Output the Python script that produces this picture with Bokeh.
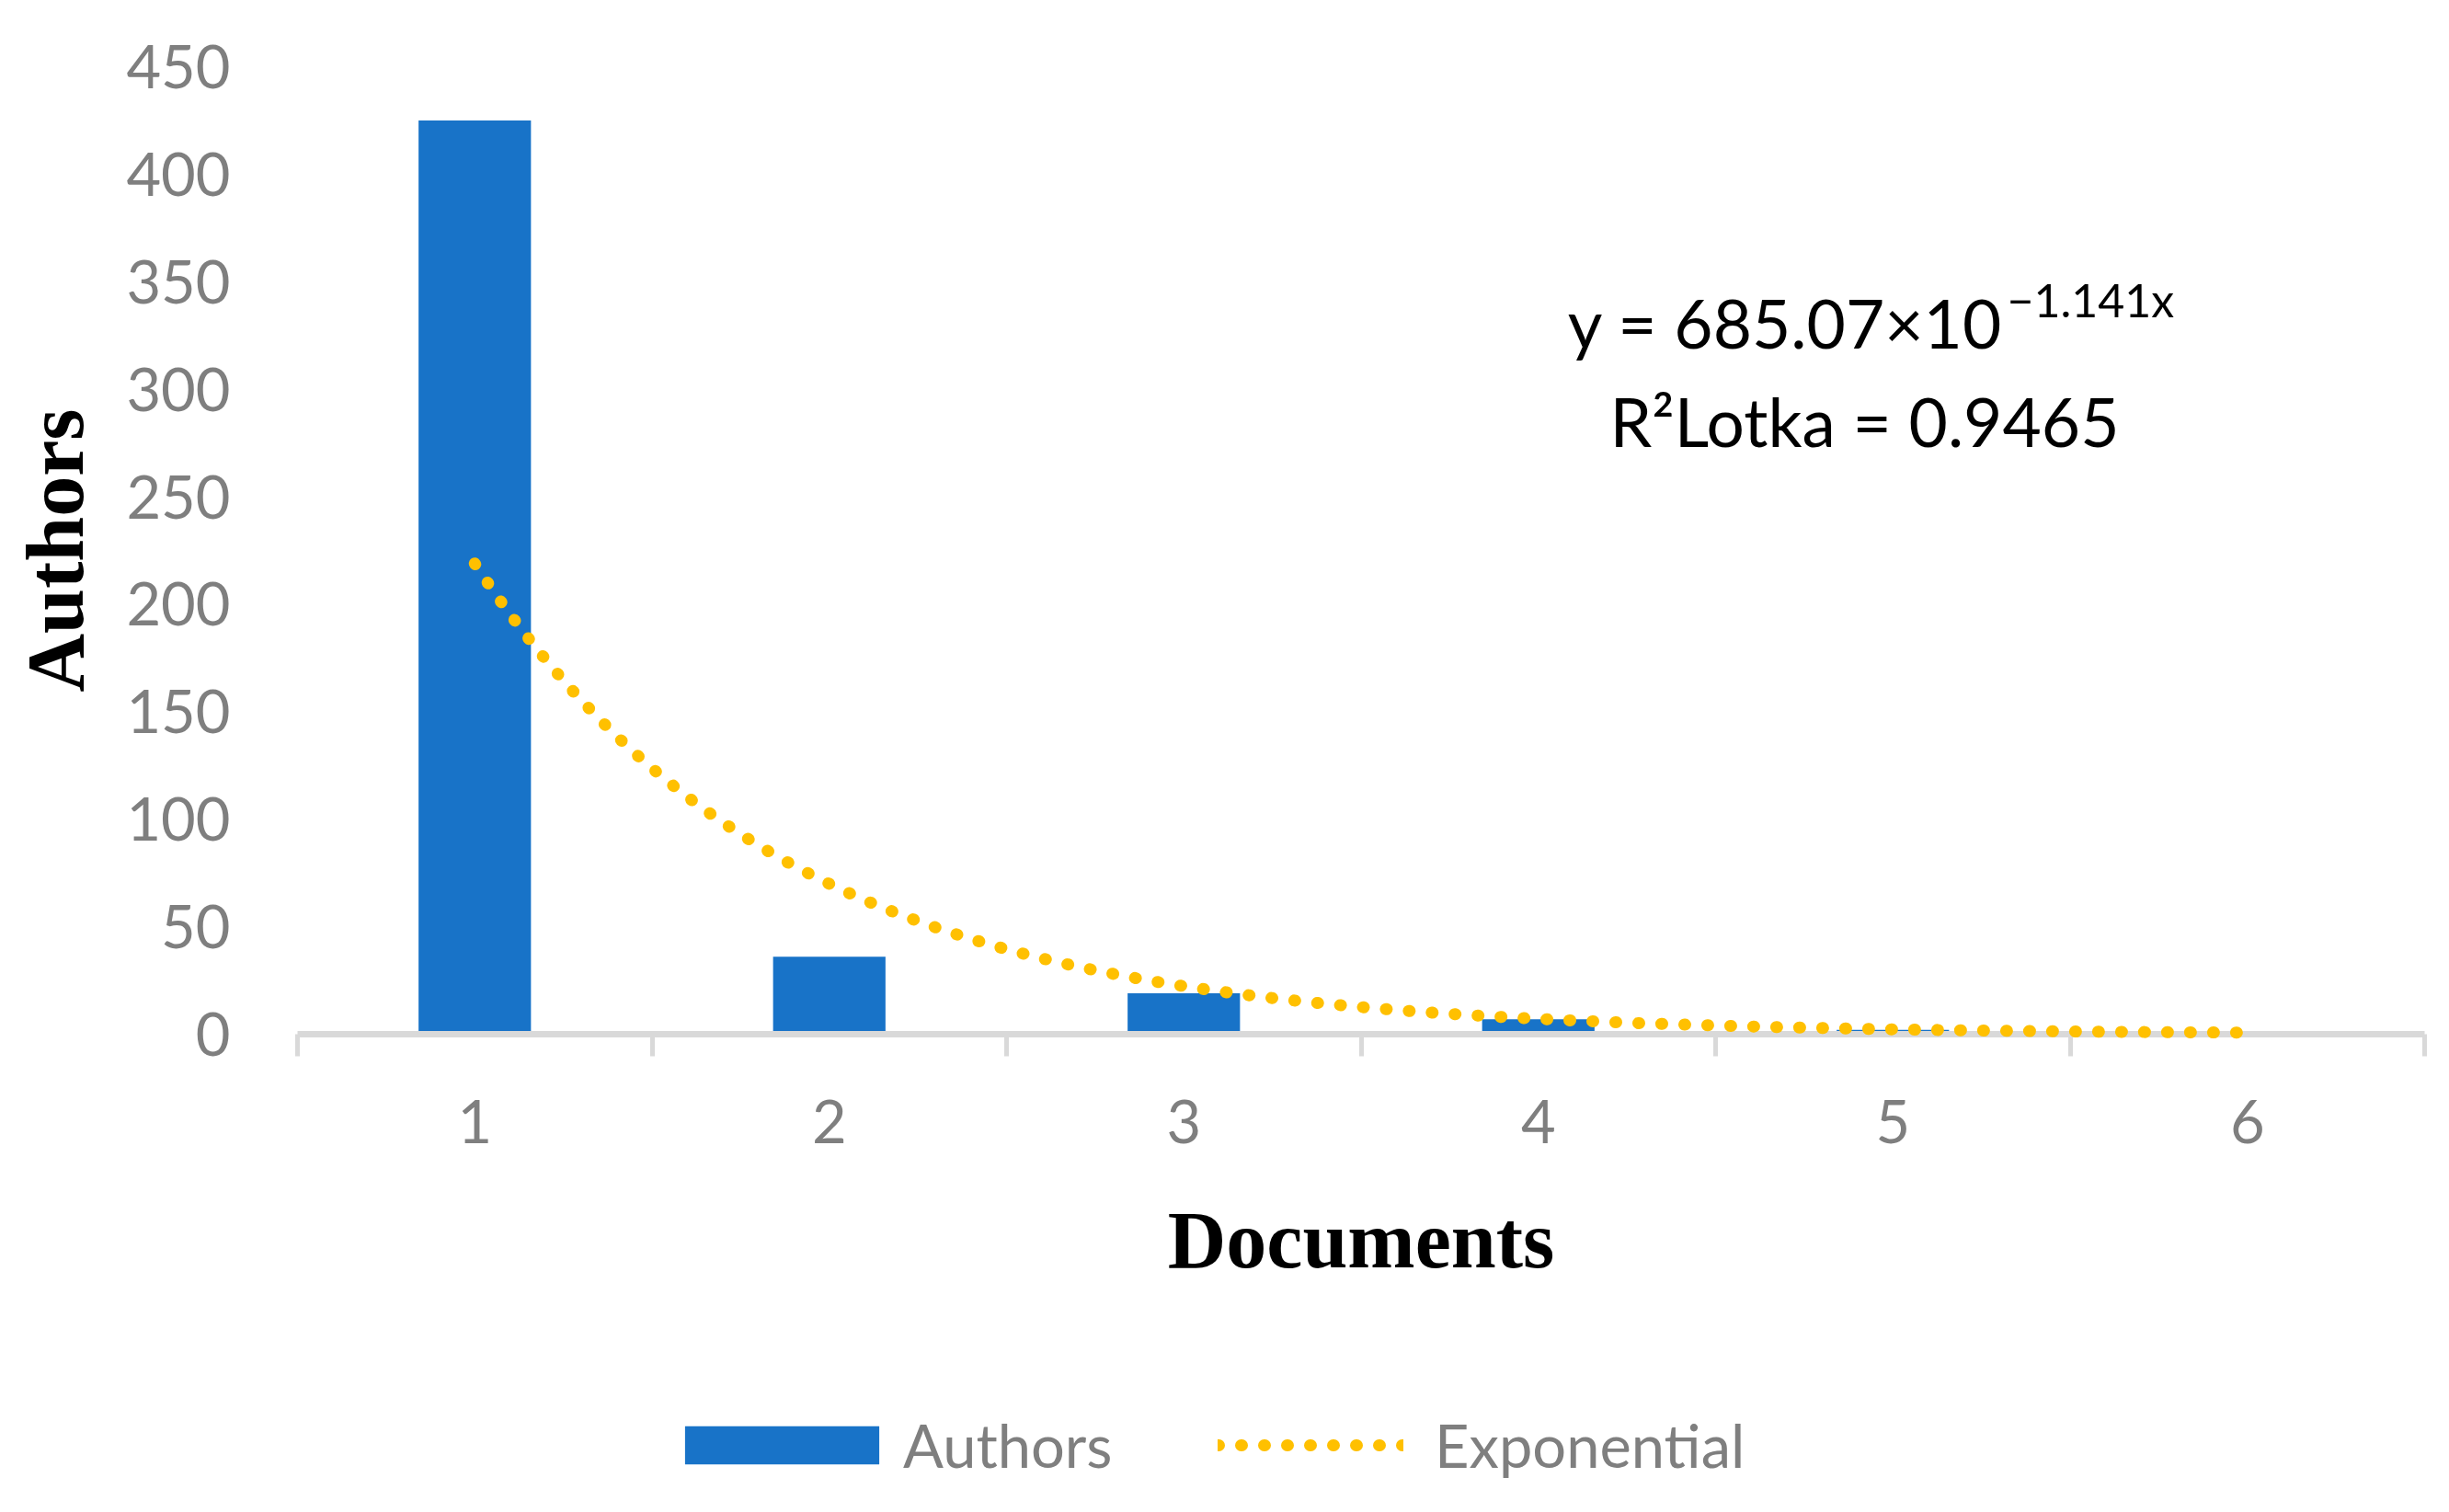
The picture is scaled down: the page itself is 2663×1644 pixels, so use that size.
import numpy as np
from bokeh.plotting import figure
from bokeh.layouts import column
from bokeh.models import (Range1d, FixedTicker, Legend, LegendItem, Label,
                          ColumnDataSource)
from bokeh.embed import file_html
from bokeh.resources import INLINE

# ---- data ----
documents = [1, 2, 3, 4, 5, 6]
authors = [425, 36, 19, 7, 2, 1]
x_tick_labels = ["1", "2", "3", "4", "5", "6"]
y_ticks = [0, 50, 100, 150, 200, 250, 300, 350, 400, 450]
equation_text = "y = 685.07×10"
equation_exponent = "−1.141x"
r2_text = "R²Lotka = 0.9465"
series_names = ["Authors", "Exponential"]

# Excel-style exponential trendline (least squares on ln y) fitted to the bars
slope, intercept = np.polyfit(documents, np.log(authors), 1)
trend_x = np.linspace(documents[0], documents[-1], 400)
trend_y = np.exp(intercept) * np.exp(slope * trend_x)

BLUE = "#1873C8"
GOLD = "#FFC000"
GRAY = "#7F7F7F"
AXIS = "#D9D9D9"
W = 2647

p = figure(width=W, height=1450,
           x_range=Range1d(0.5, 6.5), y_range=Range1d(0, 450),
           output_backend="svg", toolbar_location=None,
           min_border_left=323, min_border_right=11,
           min_border_top=72, min_border_bottom=326)
p.outline_line_color = None
p.xgrid.visible = False
p.ygrid.visible = False
p.background_fill_color = "white"
p.border_fill_color = "white"

src = ColumnDataSource(dict(x=documents, top=authors))
bars = p.vbar(x="x", top="top", width=0.317, bottom=0, source=src,
              fill_color=BLUE, line_color=None)

trend_src = ColumnDataSource(dict(x=trend_x, y=trend_y))
trend = p.line(x="x", y="y", source=trend_src, line_color=GOLD, line_width=13,
               line_dash="1 24", line_cap="round", level="overlay")

# x axis
xa = p.xaxis[0]
xa.ticker = FixedTicker(ticks=documents,
                        minor_ticks=[d - 0.5 for d in documents] + [documents[-1] + 0.5])
xa.major_label_overrides = {d: t for d, t in zip(documents, x_tick_labels)}
xa.axis_line_color = AXIS
xa.axis_line_width = 7
xa.major_tick_line_color = None
xa.major_tick_out = 0
xa.major_tick_in = 0
xa.minor_tick_line_color = AXIS
xa.minor_tick_line_width = 5
xa.minor_tick_out = 24
xa.minor_tick_in = 0
xa.major_label_text_font = "Lato"
xa.major_label_text_font_size = "65px"
xa.major_label_text_color = GRAY
xa.major_label_standoff = 47
xa.axis_label = "Documents"
xa.axis_label_text_font = "Liberation Serif"
xa.axis_label_text_font_style = "bold"
xa.axis_label_text_font_size = "88px"
xa.axis_label_text_color = "black"
xa.axis_label_standoff = 54

# y axis
ya = p.yaxis[0]
ya.ticker = FixedTicker(ticks=y_ticks)
ya.axis_line_color = None
ya.major_tick_line_color = None
ya.minor_tick_line_color = None
ya.major_tick_out = 0
ya.major_tick_in = 0
ya.minor_tick_out = 0
ya.minor_tick_in = 0
ya.major_label_text_font = "Lato"
ya.major_label_text_font_size = "65px"
ya.major_label_text_color = GRAY
ya.major_label_standoff = 73
ya.axis_label = "Authors"
ya.axis_label_text_font = "Liberation Serif"
ya.axis_label_text_font_style = "bold"
ya.axis_label_text_font_size = "88px"
ya.axis_label_text_color = "black"
ya.axis_label_standoff = 25

# equation annotation
p.add_layout(Label(x=4.083, y=331.0, text=equation_text, text_font="Lato",
                   text_font_size="73px", text_color="black",
                   text_align="left", text_baseline="alphabetic"))
p.add_layout(Label(x=5.322, y=341.5, text=equation_exponent, text_font="Lato",
                   text_font_size="50px", text_color="black",
                   text_align="left", text_baseline="alphabetic"))
p.add_layout(Label(x=4.202, y=285.0, text=r2_text, text_font="Lato",
                   text_font_size="73px", text_color="black",
                   text_align="left", text_baseline="alphabetic"))

# legend strip below the chart (frame aligned with the chart's frame)
LH = 178
q = figure(width=W, height=LH, x_range=Range1d(0.5, 6.5), y_range=Range1d(0, 450),
           x_axis_type=None, y_axis_type=None,
           output_backend="svg", toolbar_location=None,
           min_border_left=323, min_border_right=11,
           min_border_top=0, min_border_bottom=0)
q.outline_line_color = None
q.xgrid.visible = False
q.ygrid.visible = False
q.background_fill_color = "white"
q.border_fill_color = "white"
leg_bar = q.vbar(x="x", top="top", width=0.317, bottom=0, source=src,
                 fill_color=BLUE, line_color=None, visible=False)
leg_line = q.line(x="x", y="y", source=trend_src, line_color=GOLD, line_width=13,
                  line_dash="1 24", line_cap="round", visible=False)

common = dict(orientation="horizontal", padding=0, margin=0,
              border_line_color=None, background_fill_alpha=0,
              label_text_font="Lato", label_text_font_size="65px",
              label_text_color=GRAY, click_policy="none")
legend_bars = Legend(items=[LegendItem(label=series_names[0], renderers=[leg_bar])],
                     location=(395, 18), glyph_width=264, glyph_height=52,
                     label_standoff=0, **common)
legend_trend = Legend(items=[LegendItem(label=series_names[1], renderers=[leg_line])],
                      location=(1001, 18), glyph_width=202, glyph_height=42,
                      label_standoff=34, **common)
q.add_layout(legend_bars)
q.add_layout(legend_trend)

layout = column(p, q, spacing=0)
open("out.html", "w").write(file_html(layout, INLINE))
